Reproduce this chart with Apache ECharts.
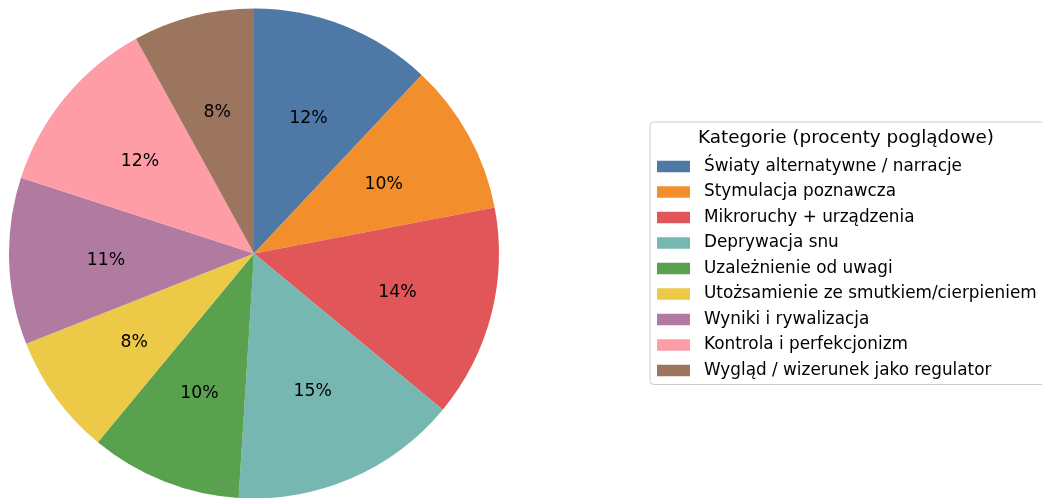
<!DOCTYPE html>
<html>
<head>
<meta charset="utf-8">
<script src="https://cdn.jsdelivr.net/npm/echarts@6/dist/echarts.min.js"></script>
<style>
  html, body { margin: 0; padding: 0; background: #fff; }
  #chart { width: 1042px; height: 498px; }
</style>
</head>
<body>
<div id="chart"></div>
<script>
const categories = [
  'Światy alternatywne / narracje',
  'Stymulacja poznawcza',
  'Mikroruchy + urządzenia',
  'Deprywacja snu',
  'Uzależnienie od uwagi',
  'Utożsamienie ze smutkiem/cierpieniem',
  'Wyniki i rywalizacja',
  'Kontrola i perfekcjonizm',
  'Wygląd / wizerunek jako regulator'
];
const shares = [12, 10, 14, 15, 10, 8, 11, 12, 8];
const colors = ['#4e79a7', '#f28e2b', '#e15759', '#76b7b2', '#59a14f', '#edc948', '#b07aa1', '#ff9da7', '#9c755f'];
const legendTitle = 'Kategorie (procenty poglądowe)';

const FONT = 'DejaVu Sans';
const chart = echarts.init(document.getElementById('chart'));

const pieData = categories.map((name, i) => ({ name, value: shares[i] }));
const total = shares.reduce((a, b) => a + b, 0);

const option = {
  animation: false,
  color: colors,
  graphic: [{
    type: 'text',
    x: 846,
    y: 138.5,
    style: {
      text: legendTitle,
      font: '18.4px "DejaVu Sans"',
      fill: '#000',
      align: 'center',
      verticalAlign: 'middle'
    }
  }],
  legend: {
    orient: 'vertical',
    left: 650,
    top: 122,
    data: categories,
    icon: 'rect',
    itemWidth: 33,
    itemHeight: 11.7,
    itemGap: 5.5,
    padding: [34.5, 10, 4, 7],
    borderColor: '#cccccc',
    borderWidth: 1,
    borderRadius: 4,
    textStyle: {
      fontFamily: FONT,
      fontSize: 16.85,
      lineHeight: 20,
      color: '#000',
      padding: [0, 0, 0, 9]
    }
  },
  series: [
    {
      type: 'pie',
      center: [254, 253.5],
      radius: [0, 245],
      startAngle: 90,
      clockwise: true,
      silent: true,
      data: pieData,
      label: { show: false },
      labelLine: { show: false },
      itemStyle: { borderWidth: 0 }
    },
    {
      type: 'pie',
      center: [254, 253.5],
      radius: [45, 245],
      startAngle: 90,
      clockwise: true,
      silent: true,
      data: pieData,
      itemStyle: { color: 'transparent', borderWidth: 0 },
      labelLine: { show: false },
      label: {
        show: true,
        position: 'inside',
        fontFamily: FONT,
        fontSize: 17.3,
        color: '#000',
        offset: [0, 2.5],
        formatter: p => Math.round(p.value / total * 100) + '%'
      }
    }
  ]
};
chart.setOption(option);
</script>
</body>
</html>
